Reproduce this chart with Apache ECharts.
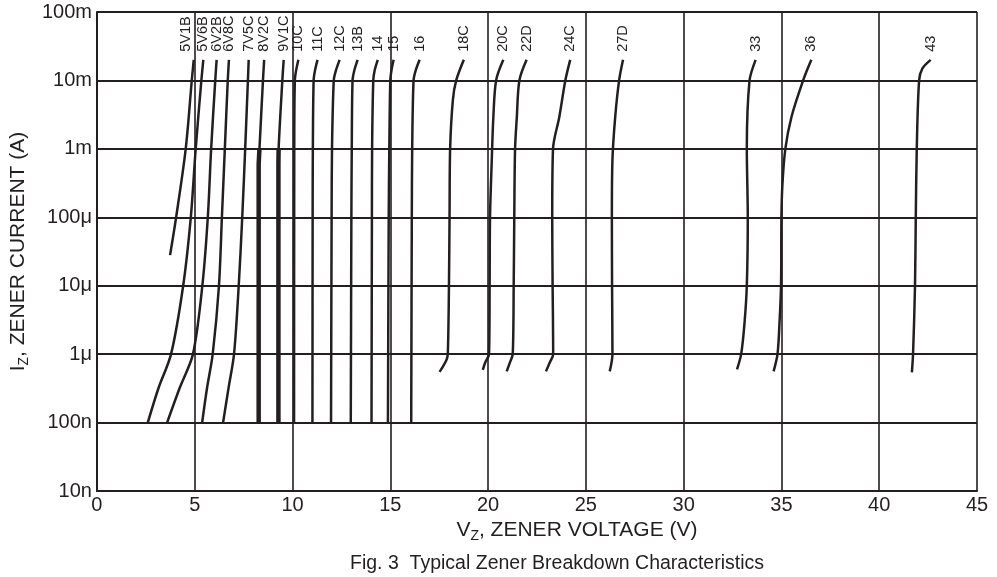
<!DOCTYPE html>
<html><head><meta charset="utf-8">
<script src="https://cdn.jsdelivr.net/npm/echarts@6/dist/echarts.min.js"></script>
<style>html,body{margin:0;padding:0;background:#fff}#c{width:997px;height:577px}</style>
</head><body><div id="c"></div>
<script>
// ---- tick labels ----
const yTickLabels = ['10n', '100n', '1\u03bc', '10\u03bc', '100\u03bc', '1m', '10m', '100m'];
const xMin = 0, xMax = 45, xStep = 5;

// ---- curves: [voltage (V), current (A)], from bottom to top ----
const curveNames = ['5V1B','5V6B','6V2B','6V8C','7V5C','8V2C','9V1C','10C','11C','12C','13B','14','15','16','18C','20C','22D','24C','27D','33','36','43'];
const z5V1B = [[3.74,2.8e-5],[4.05,1e-4],[4.54,1e-3],[4.85,1e-2],[4.95,2e-2]];
const z5V6B = [[2.60,1e-7],[3.15,3.2e-7],[3.79,1e-6],[4.41,1e-5],[4.80,1e-4],[5.05,1e-3],[5.34,1e-2],[5.44,2e-2]];
const z6V2B = [[3.59,1e-7],[4.23,3.2e-7],[4.91,1e-6],[5.39,1e-5],[5.67,1e-4],[5.84,1e-3],[6.05,1e-2],[6.12,2e-2]];
const z6V8C = [[5.38,1e-7],[5.63,3.2e-7],[5.92,1e-6],[6.24,1e-5],[6.39,1e-4],[6.54,1e-3],[6.69,1e-2],[6.75,2e-2]];
const z7V5C = [[6.45,1e-7],[6.73,3.2e-7],[7.01,1e-6],[7.25,1e-5],[7.43,1e-4],[7.58,1e-3],[7.72,1e-2],[7.76,2e-2]];
const z8V2C = [[8.27,1e-7],[8.27,6e-4],[8.31,1e-3],[8.49,1e-2],[8.55,2e-2]];
const z9V1C = [[9.28,1e-7],[9.28,6e-4],[9.29,1e-3],[9.48,1e-2],[9.55,2e-2]];
const z10C = [[10.08,1e-7],[10.09,1e-3],[10.12,1e-2],[10.30,2e-2]];
const z11C = [[11.02,1e-7],[11.03,1e-4],[11.04,1e-3],[11.08,1e-2],[11.15,1.4e-2],[11.28,2e-2]];
const z12C = [[11.97,1e-7],[12.00,1e-4],[12.02,1e-3],[12.11,1e-2],[12.22,1.4e-2],[12.41,2e-2]];
const z13B = [[12.98,1e-7],[13.01,1e-4],[13.03,1e-3],[13.07,1e-2],[13.16,1.4e-2],[13.33,2e-2]];
const z14 = [[14.04,1e-7],[14.06,1e-4],[14.07,1e-3],[14.13,1e-2],[14.20,1.4e-2],[14.36,2e-2]];
const z15 = [[14.88,1e-7],[14.92,1e-4],[14.95,1e-3],[15.00,1e-2],[15.06,1.4e-2],[15.17,2e-2]];
const z16 = [[16.07,1e-7],[16.10,1e-4],[16.12,1e-3],[16.19,1e-2],[16.30,1.4e-2],[16.50,2e-2]];
const z18C = [[17.52,5.5e-7],[17.86,8.1e-7],[17.94,1e-6],[18.00,1e-5],[18.03,1e-4],[18.06,1e-3],[18.20,5.2e-3],[18.37,1e-2],[18.76,2e-2]];
const z20C = [[19.73,5.9e-7],[19.86,7.6e-7],[20.05,1e-6],[20.08,1e-5],[20.10,1e-4],[20.19,7e-4],[20.27,2.9e-3],[20.41,1e-2],[20.78,2e-2]];
const z22D = [[20.95,5.6e-7],[21.12,7.6e-7],[21.26,1e-6],[21.31,1e-5],[21.34,1e-4],[21.38,1e-3],[21.47,2.9e-3],[21.60,1e-2],[21.97,2e-2]];
const z24C = [[22.96,5.6e-7],[23.16,7.6e-7],[23.33,1e-6],[23.30,1e-5],[23.28,1e-4],[23.32,1e-3],[23.64,2.9e-3],[23.95,1e-2],[24.20,2e-2]];
const z27D = [[26.22,5.6e-7],[26.36,1e-6],[26.34,1e-5],[26.33,1e-4],[26.36,7e-4],[26.50,2.9e-3],[26.70,1e-2],[26.90,2e-2]];
const z33 = [[32.73,6e-7],[32.94,1e-6],[33.11,2.8e-6],[33.23,1e-5],[33.28,1e-4],[33.23,1e-3],[33.37,1e-2],[33.68,2e-2]];
const z36 = [[34.60,5.6e-7],[34.80,1e-6],[34.90,2.8e-6],[34.98,1e-5],[35.00,1e-4],[35.05,3e-4],[35.20,1e-3],[35.51,2.9e-3],[36.11,1e-2],[36.53,2e-2]];
const z43 = [[41.67,5.4e-7],[41.73,1e-6],[41.83,1e-5],[41.87,1e-4],[41.92,1e-3],[42.04,1e-2],[42.21,1.5e-2],[42.63,2e-2]];
const curves = [z5V1B,z5V6B,z6V2B,z6V8C,z7V5C,z8V2C,z9V1C,z10C,z11C,z12C,z13B,z14,z15,z16,z18C,z20C,z22D,z24C,z27D,z33,z36,z43];
// curves drawn with a heavy stroke below this current
const thickCurves = ['8V2C', '9V1C'];
const thickBelow = 1e-3;

// ---- styling ----
const INK = '#231f20';
const FONT = "'Liberation Sans', Arial, sans-serif";
// label shifts in the rotated label frame: [along text, across text]
const labelShift = { '5V1B': [0, -8] };

const series = [];
curveNames.forEach((name, i) => {
  const pts = curves[i];
  series.push({
    type: 'line', name,
    data: pts.map((p, j) => j === pts.length - 1 ? {
      value: p,
      label: {
        show: true, formatter: name, position: 'top', distance: 8, rotate: 90,
        align: 'left', verticalAlign: 'middle',
        offset: labelShift[name] || [0, 0],
        color: INK, fontSize: 14.5, fontFamily: FONT
      }
    } : p),
    symbol: 'circle', symbolSize: 0, showSymbol: true, showAllSymbol: true,
    itemStyle: { color: INK },
    lineStyle: { color: INK, width: 2.5 },
    smooth: 0.3, silent: true, animation: false, z: 5
  });
  if (thickCurves.includes(name)) {
    series.push({
      type: 'line', name: name + '-heavy',
      data: pts.filter(p => p[1] <= thickBelow),
      symbol: 'none', lineStyle: { color: INK, width: 4.5 },
      silent: true, animation: false, z: 5
    });
  }
});

const nameRich = {
  m: { fontSize: 21, fontFamily: FONT, color: INK, lineHeight: 25 },
  s: { fontSize: 14, fontFamily: FONT, color: INK, lineHeight: 14, verticalAlign: 'bottom' }
};

const chart = echarts.init(document.getElementById('c'), null, { renderer: 'canvas' });
chart.setOption({
  animation: false,
  backgroundColor: '#fff',
  textStyle: { fontFamily: FONT, color: INK },
  title: {
    text: 'Fig. 3  Typical Zener Breakdown Characteristics',
    left: 552, top: 549, textAlign: 'center',
    textStyle: { fontSize: 19.5, fontWeight: 'normal', color: INK, fontFamily: FONT }
  },
  grid: { left: 95, right: 20, top: 12, bottom: 86, containLabel: false },
  xAxis: {
    type: 'value', min: xMin, max: xMax, interval: xStep,
    axisLine: { show: true, lineStyle: { color: INK, width: 2 } },
    axisTick: { show: false },
    axisLabel: { color: INK, fontSize: 20, fontFamily: FONT, margin: 4 },
    splitLine: { show: true, lineStyle: { color: INK, width: 1.6 } },
    name: '{m|V}{s|Z}{m|, ZENER VOLTAGE (V)}',
    nameLocation: 'middle', nameGap: 23,
    nameTextStyle: { rich: nameRich, padding: [0, 0, 0, 80] }
  },
  yAxis: {
    type: 'log', logBase: 10, min: 1e-8, max: 0.1, splitNumber: 7,
    axisLine: { show: true, lineStyle: { color: INK, width: 2 } },
    axisTick: { show: false },
    axisLabel: {
      color: INK, fontSize: 20, fontFamily: FONT, margin: 5,
      formatter: v => yTickLabels[Math.round(Math.log10(v)) + 8] || ''
    },
    splitLine: { show: true, lineStyle: { color: INK, width: 2 } },
    minorSplitLine: { show: false },
    name: '{m|I}{s|Z}{m|, ZENER CURRENT (A)}',
    nameLocation: 'middle', nameGap: 54, nameRotate: 90,
    nameTextStyle: { rich: nameRich }
  },
  series
});
</script></body></html>
